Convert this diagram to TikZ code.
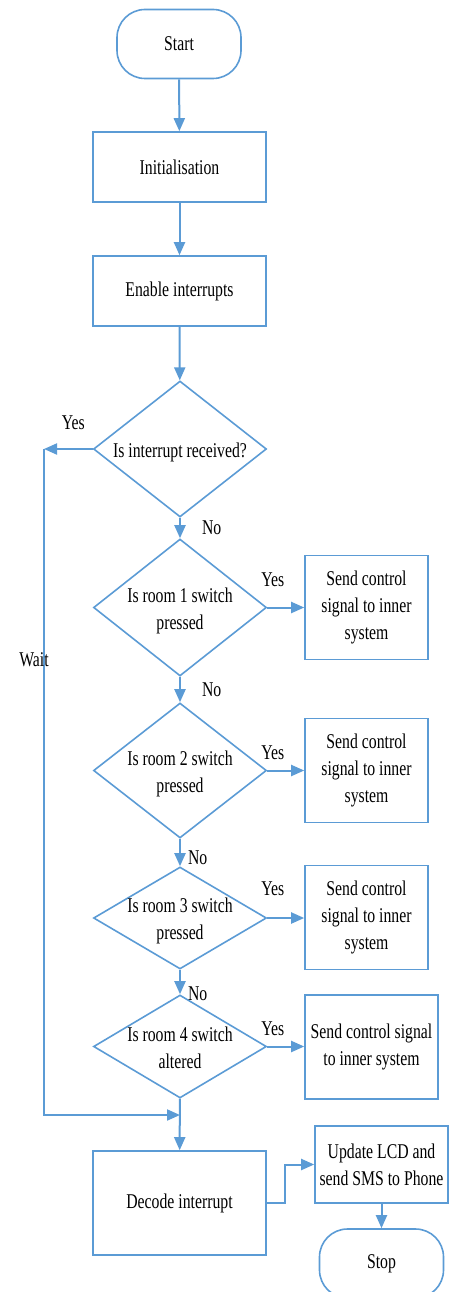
\documentclass[tikz,border=0pt]{standalone}
\usepackage{fontspec}
\setmainfont[FakeStretch=0.75]{Liberation Serif}
\usepackage{xcolor}
\usepackage{tikz}
\usetikzlibrary{arrows.meta,positioning,shapes.geometric}
\definecolor{ln}{HTML}{5B9BD5}
\newcommand{\dtxt}[1]{%
    \makebox[0pt]{\smash{\raisebox{-8pt}{\begin{tabular}{@{}c@{}}#1\end{tabular}}}}%
}
\tikzset{
    term/.style={draw=ln, line width=1.6pt, rounded corners=28pt,
        minimum width=124pt, minimum height=69pt, inner sep=2pt},
    proc/.style={draw=ln, line width=1.6pt, align=center,
        minimum width=173pt, minimum height=70pt, inner sep=2pt},
    side/.style={draw=ln, line width=1.6pt, align=center,
        minimum width=123pt, minimum height=104pt, inner sep=2pt},
    decide/.style={diamond, draw=ln, line width=1.6pt,
        minimum width=173pt, inner sep=0pt},
    flow/.style={draw=ln, line width=2pt, -{Triangle[length=13pt,width=11pt]}},
    lbl/.style={inner sep=1pt}
}

\begin{document}
\begin{tikzpicture}[x=1pt, y=-1pt, font=\fontsize{21pt}{27pt}\selectfont]
        \useasboundingbox (0,0) rectangle (449,1292);
        \clip (0,0) rectangle (449,1292);

        \node[term] (start) at (179,44) {Start};
        \node[proc] (init) at (179.5,167) {Initialisation};
        \node[proc] (enable) at (179.5,291) {Enable interrupts};

        \node[decide, minimum height=136pt] (q0) at (180,449) {\dtxt{Is interrupt received?}};
        \node[decide, minimum height=137pt] (q1) at (180,607.5) {\dtxt{Is room 1 switch\\pressed}};
        \node[decide, minimum height=135pt] (q2) at (180,770.5) {\dtxt{Is room 2 switch\\pressed}};
        \node[decide, minimum height=102pt] (q3) at (180,918) {\dtxt{Is room 3 switch\\pressed}};
        \node[decide, minimum height=103pt] (q4) at (180,1046.5) {\dtxt{Is room 4 switch\\altered}};

        \node[side] (s1) at (366.5,607.5) {Send control\\signal to inner\\system};
        \node[side] (s2) at (366.5,770.5) {Send control\\signal to inner\\system};
        \node[side] (s3) at (366.5,917.5) {Send control\\signal to inner\\system};
        \node[side, minimum width=133pt] (s4) at (371.5,1047) {Send control signal\\to inner system};

        \node[proc, minimum height=104pt] (decode) at (179.5,1203) {Decode interrupt};
        \node[side, minimum width=133pt, minimum height=77pt] (update) at (381.5,1164.5)
            {Update LCD and\\send SMS to Phone};
        \node[term] (stop) at (381.5,1263.5) {Stop};

        \coordinate (lp) at (44,449);
        \coordinate (lq) at (44,1115);
        \coordinate (jn) at (180,1115);

        \draw[flow] (start) -- (init);
        \draw[flow] (init) -- (enable);
        \draw[flow] (enable) -- (q0);

        \draw[flow] (q0) -- node[lbl, right=20pt] {No} (q1);
        \draw[flow] (q1) -- node[lbl, right=20pt] {No} (q2);
        \draw[flow] (q2) -- node[lbl, right=6pt, pos=0.69] {No} (q3);
        \draw[flow] (q3) -- node[lbl, right=6pt, pos=1] {No} (q4);
        \draw[flow] (q4) -- (decode);

        \draw[flow] (q1.east) -- node[lbl, pos=0.15, above=19pt] {Yes} (q1.east -| s1.west);
        \draw[flow] (q2.east) -- node[lbl, pos=0.15, above=9pt] {Yes} (q2.east -| s2.west);
        \draw[flow] (q3.east) -- node[lbl, pos=0.15, above=20pt] {Yes} (q3.east -| s3.west);
        \draw[flow] (q4.east) -- node[lbl, pos=0.15, above=9pt] {Yes} (q4.east -| s4.west);

        \draw[flow] (q0.west) -- node[lbl, pos=0.4, above=17pt] {Yes} (lp);
        \draw[flow] (lp) -- node[lbl, pos=0.317, xshift=-10pt] {Wait} (lq) -- (jn);

        \draw[flow] (decode.east) -- ++(18,0) |- (update.west);
        \draw[flow] (update) -- (stop);
\end{tikzpicture}
\end{document}
